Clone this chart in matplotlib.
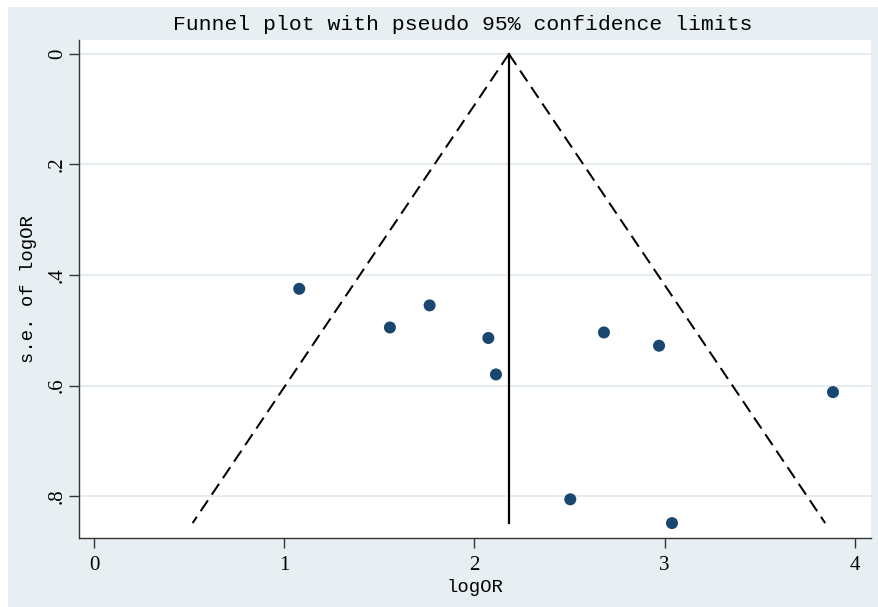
import numpy as np
import matplotlib

matplotlib.use("Agg")
import matplotlib.pyplot as plt
from matplotlib.patches import Rectangle

# study effects (log odds ratio) and their standard errors
log_or = [1.078, 1.555, 1.764, 2.073, 2.113, 2.681, 2.971, 3.886, 2.504, 3.039]
se_log_or = [0.425, 0.495, 0.455, 0.514, 0.580, 0.504, 0.528, 0.612, 0.806, 0.849]
pooled = 2.181

x_ticks = [0, 1, 2, 3, 4]
y_ticks = [0, 0.2, 0.4, 0.6, 0.8]
y_tick_labels = ["0", ".2", ".4", ".6", ".8"]

BG = "#e8eff2"
GRID = "#e1eaee"
NAVY = "#1a476f"
MONO = ["Liberation Mono", "DejaVu Sans Mono"]

plt.rcParams["font.family"] = ["Liberation Serif", "DejaVu Serif"]

fig = plt.figure(figsize=(8.79, 6.07), dpi=100)
fig.patch.set_facecolor("white")
fig.patches.append(Rectangle((8 / 879, 0), 1, 1 - 7 / 607, transform=fig.transFigure,
                             facecolor=BG, edgecolor="none", zorder=-10))

ax = fig.add_axes([79.5 / 879, 1 - 538 / 607, 791.5 / 879, 498 / 607])
ax.set_facecolor("white")

# pseudo 95% limits around the pooled estimate
se_max = max(se_log_or)
se_line = np.array([0.0, se_max])
dash = (0, (6.5, 3.4))
ax.plot(pooled - 1.96 * se_line, se_line, color="black", lw=1.45, ls=dash)
ax.plot(pooled + 1.96 * se_line, se_line, color="black", lw=1.45, ls=dash)
ax.plot([pooled, pooled], [0, se_max], color="black", lw=1.6)

ax.scatter(log_or, se_log_or, s=75, color=NAVY, edgecolors="none", zorder=3)

ax.set_xlim(-0.078, 4.086)
ax.set_ylim(0.876, -0.0253)
ax.set_xticks(x_ticks)
ax.set_xticklabels([str(t) for t in x_ticks])
ax.set_yticks(y_ticks)
ax.set_yticklabels(y_tick_labels, rotation=90, va="center")
ax.grid(True, axis="y", color=GRID, lw=1.2)
ax.set_axisbelow(True)

for side in ("top", "right"):
    ax.spines[side].set_visible(False)
for side in ("left", "bottom"):
    ax.spines[side].set_color("#333333")
    ax.spines[side].set_linewidth(1.0)
ax.tick_params(direction="out", length=7, width=1.0, color="#333333", labelsize=15)
ax.tick_params(axis="x", pad=6)
ax.tick_params(axis="y", pad=2)

ax.set_xlabel("logOR", fontsize=13.6, labelpad=3, family=MONO)
ax.set_ylabel("s.e. of logOR", fontsize=13.6, labelpad=8, family=MONO)
fig.text(462.5 / 879, 1 - 25 / 607, "Funnel plot with pseudo 95% confidence limits",
         ha="center", va="center", fontsize=15.4, family=MONO)

fig.savefig("out.png", dpi=100, facecolor=fig.get_facecolor())
